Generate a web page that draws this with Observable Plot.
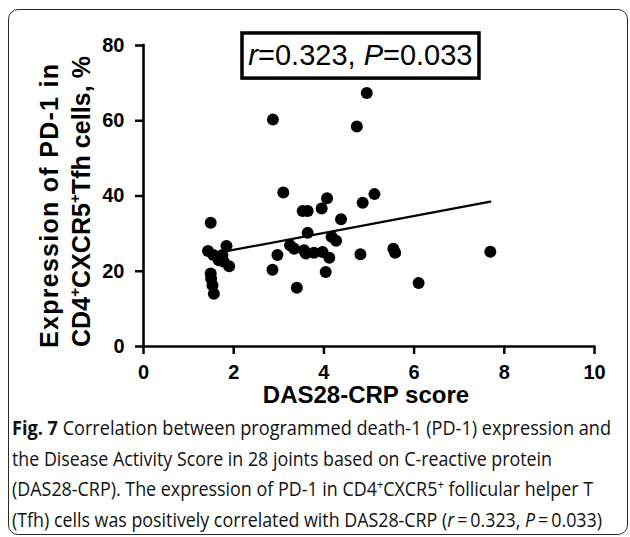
<!DOCTYPE html>
<html>
<head>
<meta charset="utf-8">
<script src="https://cdn.jsdelivr.net/npm/d3@7"></script>
<script src="https://cdn.jsdelivr.net/npm/@observablehq/plot@0.6"></script>
<style>
  html, body { margin: 0; padding: 0; background: white; }
  #wrap { position: relative; width: 630px; height: 537px; overflow: hidden; background: white; }
  #frame { position: absolute; left: 8px; top: 9px; width: 618px; height: 524px;
           border: 1.5px solid #2a2a2a; border-radius: 10px; pointer-events: none; }
  #chart { position: absolute; left: 0; top: 0; }
  #chart svg text { font-family: "Liberation Sans", Arial, sans-serif; }
  #chart g[aria-label="x-axis tick label"], #chart g[aria-label="y-axis tick label"] { font-weight: bold; }
  #cap { position: absolute; left: 12px; top: 413px; font-family: "Open Sans", "Noto Sans", sans-serif;
         font-size: 20px; line-height: 30.5px; color: #111; }
  #cap .ln { white-space: nowrap; height: 30.5px; }
  #cap .ln span.inner { display: inline-block; transform-origin: 0 50%; }
  #cap sup { font-size: 0.62em; line-height: 0; vertical-align: 0.55em; }
</style>
</head>
<body>
<div id="wrap">
  <div id="chart"></div>
  <div id="cap">
    <div class="ln" data-w="599"><span class="inner"><b>Fig. 7</b> Correlation between programmed death-1 (PD-1) expression and</span></div>
    <div class="ln" data-w="540"><span class="inner">the Disease Activity Score in 28 joints based on C-reactive protein</span></div>
    <div class="ln" data-w="581"><span class="inner">(DAS28-CRP). The expression of PD-1 in CD4<sup>+</sup>CXCR5<sup>+</sup> follicular helper T</span></div>
    <div class="ln" data-w="590"><span class="inner">(Tfh) cells was positively correlated with DAS28-CRP (<i>r</i>&#8201;=&#8201;0.323, <i>P</i>&#8201;=&#8201;0.033)</span></div>
  </div>
  <div id="frame"></div>
</div>
<script>
// ---- data ----
const das28 = [
  1.49, 1.43, 1.55, 1.84, 1.75, 1.67, 1.90, 1.78, 1.49, 1.50, 1.53, 1.56,
  3.10, 4.07, 5.12, 4.86, 3.53, 3.64, 3.95, 4.38, 3.64, 4.17, 4.27, 3.25, 3.34,
  2.97, 3.56, 3.60, 3.78, 3.97, 4.12, 4.81, 2.86, 4.04, 3.40,
  2.87, 4.73, 4.95, 5.54, 5.58, 6.10, 7.69
];
const pd1 = [
  32.9, 25.4, 24.3, 26.7, 24.3, 22.9, 21.3, 22.5, 19.4, 18.0, 16.3, 14.0,
  40.9, 39.4, 40.5, 38.2, 36.0, 36.0, 36.7, 33.8, 30.2, 29.2, 28.1, 26.9, 26.0,
  24.3, 25.6, 24.7, 24.9, 25.1, 23.6, 24.5, 20.4, 19.8, 15.6,
  60.3, 58.5, 67.4, 26.0, 24.9, 16.9, 25.2
];
const fitX = [1.43, 7.69];
const fitY = [24.4, 38.5];
const xTicks = [0, 2, 4, 6, 8, 10];
const yTicks = [0, 20, 40, 60, 80];
const statLabel = "r=0.323, P=0.033";
const xTitle = "DAS28-CRP score";
const yTitle1 = "Expression of PD-1 in";

// tables built from the arrays
const points = das28.map((x, i) => ({x, y: pd1[i]}));
const fit = fitX.map((x, i) => ({x, y: fitY[i]}));
const statBox = [{x1: 2.195, x2: 7.45, y1: 71.2, y2: 83.2, tx: 4.81, ty: 77.3, label: statLabel}];

const svg = Plot.plot({
  width: 630,
  height: 410,
  marginLeft: 143,
  marginRight: 36,
  marginTop: 45,
  marginBottom: 64,
  x: {domain: [0, 10]},
  y: {domain: [0, 80]},
  style: {background: "white", color: "black", overflow: "visible", fontFamily: "'Liberation Sans', Arial, sans-serif"},
  marks: [
    Plot.axisX({ticks: xTicks, tickSize: 8, tickPadding: 10, strokeWidth: 2.5, fontSize: 20, fontWeight: "bold", label: null}),
    Plot.axisY({ticks: yTicks, tickSize: 8, tickPadding: 11, strokeWidth: 2.5, fontSize: 20, fontWeight: "bold", label: null}),
    Plot.ruleY([0], {x1: 0, x2: 10, strokeWidth: 2.6, strokeLinecap: "square"}),
    Plot.ruleX([0], {y1: 0, y2: 80, strokeWidth: 2.6, strokeLinecap: "square"}),
    Plot.line(fit, {x: "x", y: "y", stroke: "black", strokeWidth: 2.2}),
    Plot.dot(points, {x: "x", y: "y", r: 6, fill: "black", stroke: "none"}),
    Plot.rect(statBox, {x1: "x1", x2: "x2", y1: "y1", y2: "y2", fill: "white", stroke: "black", strokeWidth: 3.5}),
    Plot.text(statBox, {x: "tx", y: "ty", text: "label", fontSize: 29, textAnchor: "middle", fill: "black"})
  ]
});
document.getElementById("chart").appendChild(svg);

// italic r and P in the statistic label
const s = d3.select(svg);
s.selectAll('g[aria-label="text"] text').each(function() {
  const t = d3.select(this);
  const parts = t.text().match(/^(r)(=[^,]*, )(P)(=.*)$/);
  if (!parts) return;
  t.text(null);
  t.append("tspan").attr("font-style", "italic").text(parts[1]);
  t.append("tspan").text(parts[2]);
  t.append("tspan").attr("font-style", "italic").text(parts[3]);
  t.append("tspan").text(parts[4]);
});

// axis titles
s.append("text")
  .attr("x", 366).attr("y", 403)
  .attr("text-anchor", "middle").attr("font-weight", "bold").attr("font-size", 24)
  .attr("fill", "black")
  .text(xTitle);

const yt = s.append("g").attr("font-weight", "bold").attr("font-size", 25).attr("text-anchor", "middle").attr("fill", "black");
yt.append("text").attr("transform", "translate(58,206) rotate(-90)")
  .attr("textLength", 284).attr("lengthAdjust", "spacing").text(yTitle1);
const l2 = yt.append("text").attr("transform", "translate(90,201.5) rotate(-90)")
  .attr("textLength", 291).attr("lengthAdjust", "spacing");
l2.append("tspan").text("CD4");
l2.append("tspan").attr("font-size", 15).attr("dy", -10).text("+");
l2.append("tspan").attr("dy", 10).text("CXCR5");
l2.append("tspan").attr("font-size", 15).attr("dy", -10).text("+");
l2.append("tspan").attr("dy", 10).text("Tfh cells, %");

// fit caption lines to the reference widths
document.querySelectorAll("#cap .ln").forEach(ln => {
  const inner = ln.querySelector(".inner");
  const w = inner.getBoundingClientRect().width;
  const target = +ln.dataset.w;
  inner.style.transform = `scaleX(${target / w})`;
});
</script>
</body>
</html>
